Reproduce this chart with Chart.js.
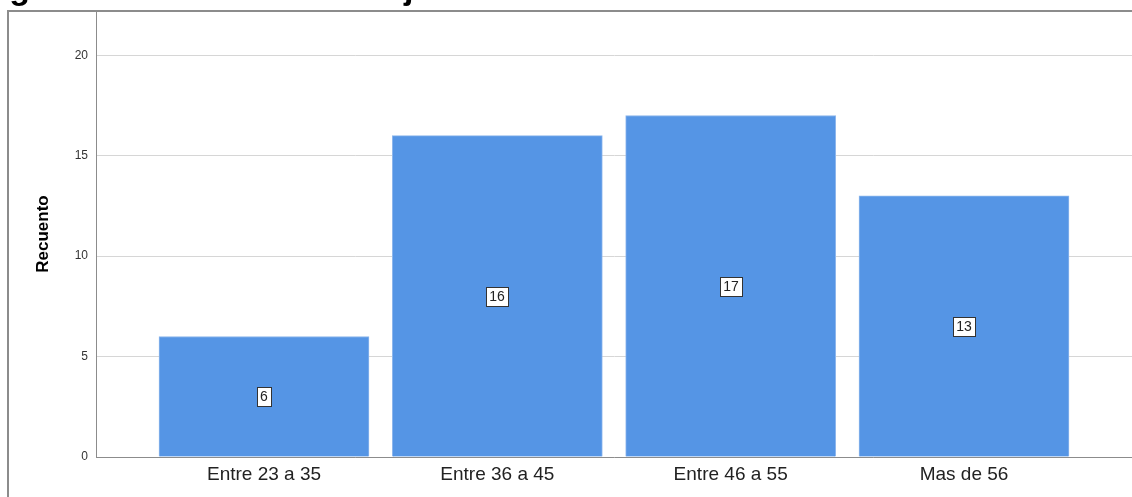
<!DOCTYPE html>
<html>
<head>
<meta charset="utf-8">
<script src="https://cdn.jsdelivr.net/npm/chart.js@4.4.1/dist/chart.umd.min.js"></script>
<style>
  html, body { margin: 0; padding: 0; background: #ffffff; overflow: hidden; }
  #wrap { position: relative; width: 1132px; height: 497px; }
</style>
</head>
<body>
<div id="wrap"><canvas id="c" width="1132" height="497"></canvas></div>
<script>
// Age groups and their counts
const categories = ['Entre 23 a 35', 'Entre 36 a 45', 'Entre 46 a 55', 'Mas de 56'];
const counts = [6, 16, 17, 13];
const yTicks = [0, 5, 10, 15, 20];
const yAxisTitle = 'Recuento';
const figureTitle = 'Figura 3 Edad de los trabajadores';

const FONT = "'Liberation Sans', Arial, Helvetica, sans-serif";
const AXIS_GREY = '#8c8c8c';

// Outer frame and the figure caption above it
const framePlugin = {
  id: 'frame',
  afterDraw(chart) {
    const ctx = chart.ctx;
    ctx.save();
    ctx.strokeStyle = AXIS_GREY;
    ctx.lineWidth = 2;
    ctx.beginPath();
    ctx.moveTo(8, 497);
    ctx.lineTo(8, 11);
    ctx.lineTo(1132, 11);
    ctx.stroke();
    ctx.fillStyle = '#000000';
    ctx.font = 'bold 34px ' + FONT;
    ctx.textAlign = 'left';
    ctx.textBaseline = 'alphabetic';
    ctx.fillText(figureTitle, -21, -1);
    ctx.restore();
  }
};

// Boxed value labels in the middle of each bar
const valueBoxes = {
  id: 'valueBoxes',
  afterDatasetsDraw(chart) {
    const ctx = chart.ctx;
    const meta = chart.getDatasetMeta(0);
    ctx.save();
    ctx.font = '14px ' + FONT;
    ctx.textAlign = 'center';
    ctx.textBaseline = 'middle';
    meta.data.forEach((bar, i) => {
      const text = String(counts[i]);
      const cx = Math.round(bar.x);
      const cy = Math.round((bar.y + bar.base) / 2);
      const w = Math.ceil(ctx.measureText(text).width) + 6;
      const h = 19;
      const x0 = Math.round(cx - w / 2) + 0.5;
      const y0 = Math.round(cy - h / 2) + 0.5;
      ctx.fillStyle = '#ffffff';
      ctx.fillRect(x0, y0, w, h);
      ctx.strokeStyle = '#333333';
      ctx.lineWidth = 1;
      ctx.strokeRect(x0, y0, w, h);
      ctx.fillStyle = '#222222';
      ctx.fillText(text, cx, cy + 1);
    });
    ctx.restore();
  }
};

new Chart(document.getElementById('c'), {
  type: 'bar',
  data: {
    datasets: [{
      data: counts.map((v, i) => ({ x: i + 1, y: v })),
      backgroundColor: '#5595e5',
      borderColor: '#8db6ec',
      borderWidth: 1,
      barThickness: 210
    }]
  },
  options: {
    responsive: false,
    animation: false,
    devicePixelRatio: 1,
    layout: { padding: { top: 11, right: 0, bottom: 0, left: 0 } },
    plugins: {
      legend: { display: false },
      tooltip: { enabled: false },
      title: { display: false }
    },
    scales: {
      x: {
        type: 'linear',
        offset: false,
        min: 0.28,
        max: 4.72,
        afterBuildTicks(scale) {
          scale.ticks = categories.map((_, i) => ({ value: i + 1 }));
        },
        afterFit(scale) {
          scale.height = 40;
          scale.paddingLeft = 0;
          scale.paddingRight = 0;
        },
        grid: { display: false, drawTicks: false },
        border: { display: true, color: AXIS_GREY, width: 1 },
        ticks: {
          autoSkip: false,
          maxRotation: 0,
          padding: 6,
          color: '#222222',
          font: { family: FONT, size: 19 },
          callback: (v) => categories[Math.round(v) - 1] || ''
        }
      },
      y: {
        min: 0,
        max: 22.2,
        afterBuildTicks(scale) {
          scale.ticks = yTicks.map(v => ({ value: v }));
        },
        afterFit(scale) {
          scale.width = 96;
          scale.paddingTop = 0;
          scale.paddingBottom = 0;
        },
        grid: { color: '#d6d6d6', lineWidth: 1, drawTicks: false },
        border: { display: true, color: AXIS_GREY, width: 1 },
        ticks: {
          padding: 8,
          color: '#333333',
          font: { family: FONT, size: 12 }
        },
        title: {
          display: true,
          text: yAxisTitle,
          color: '#000000',
          font: { family: FONT, size: 17, weight: 'bold' },
          padding: { top: 33, bottom: 0 }
        }
      }
    }
  },
  plugins: [valueBoxes, framePlugin]
});
</script>
</body>
</html>
